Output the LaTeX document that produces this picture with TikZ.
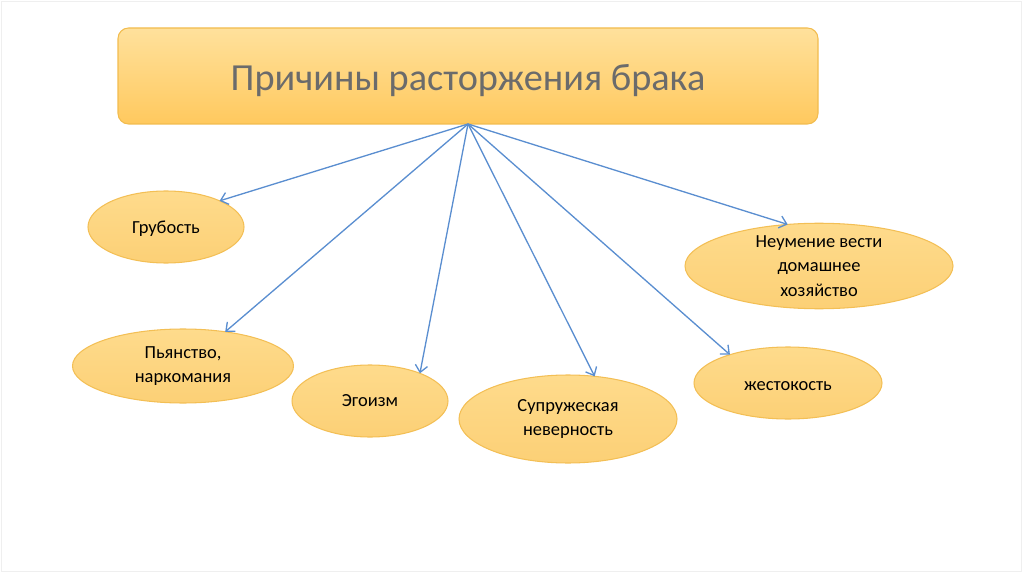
\documentclass[tikz,border=0pt]{standalone}
\usepackage{fontspec}
\setmainfont{Carlito}
\usetikzlibrary{shapes.geometric,arrows.meta}
\definecolor{boxtop}{HTML}{FFE19C}
\definecolor{boxbot}{HTML}{FFC95E}
\definecolor{boxline}{HTML}{F2BC4E}
\definecolor{elltop}{HTML}{FEDB8C}
\definecolor{ellbot}{HTML}{FCD076}
\definecolor{ellline}{HTML}{F3BF55}
\definecolor{arrowblue}{HTML}{5A8ED0}
\definecolor{titlegray}{HTML}{6B6B6B}
\definecolor{frame}{HTML}{EFEFEF}
\tikzset{
  titlebox/.style={draw=boxline, line width=0.6pt, rounded corners=6pt,
    top color=boxtop, bottom color=boxbot, minimum width=700*0.02cm,
    minimum height=96*0.02cm, outer sep=0pt, text=titlegray,
    font=\fontsize{21.8}{26}\selectfont},
  cause/.style={ellipse, draw=ellline, line width=0.6pt, top color=elltop,
    bottom color=ellbot, inner sep=0pt, outer sep=0pt, align=center,
    font=\fontsize{10.5}{13.8}\selectfont},
  link/.style={draw=arrowblue, line width=0.75pt,
    -{Straight Barb[length=4pt,width=7pt,line width=0.75pt]}}
}
\begin{document}
\begin{tikzpicture}[x=0.02cm,y=-0.02cm]
\useasboundingbox (0,0) rectangle (1024,574);
\draw[frame, line width=0.5pt] (1,1) rectangle (1021,571);
\node[titlebox] (title) at (468,76) {\rule{0pt}{19.5pt}Причины расторжения брака};
\coordinate (o) at (468,124);
\node[cause, minimum width=156*0.02cm, minimum height=72*0.02cm] (grub) at (166,227) {\rule{0pt}{9.5pt}Грубость};
\node[cause, minimum width=268*0.02cm, minimum height=82*0.02cm] (neum) at (819,266) {Неумение вести\\домашнее\\хозяйство};
\node[cause, minimum width=221*0.02cm, minimum height=74*0.02cm] (pyan) at (183,366) {Пьянство,\\наркомания};
\node[cause, minimum width=156*0.02cm, minimum height=72*0.02cm] (ego) at (370,401) {Эгоизм};
\node[cause, minimum width=218*0.02cm, minimum height=88*0.02cm] (supr) at (568,419) {Супружеская\\неверность};
\node[cause, minimum width=188*0.02cm, minimum height=72*0.02cm] (zhest) at (788,383) {\rule{0pt}{8.5pt}жестокость};
\draw[link] (o) -- (grub.26.6);
\draw[link] (o) -- (neum.127.6);
\draw[link] (o) -- (pyan.39);
\draw[link] (o) -- (ego.29.5);
\draw[link] (o) -- (supr.58.5);
\draw[link] (o) -- (zhest.154.8);
\end{tikzpicture}
\end{document}
